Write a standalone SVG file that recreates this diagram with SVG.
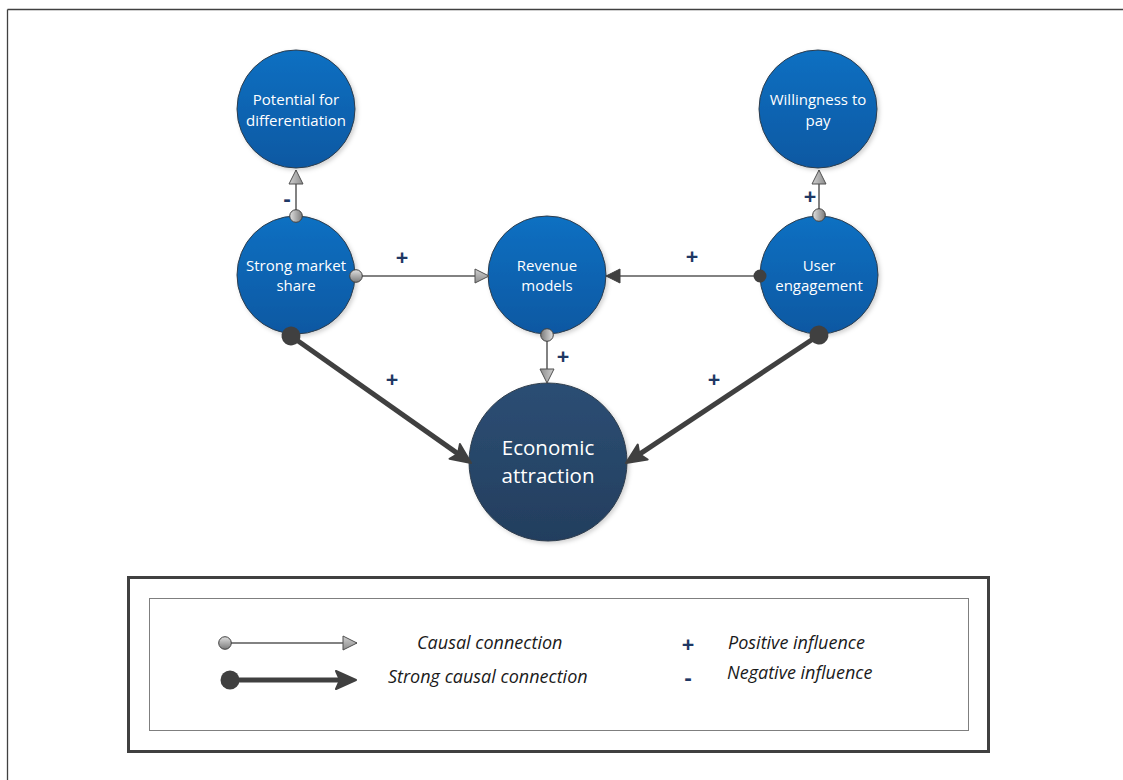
<svg xmlns="http://www.w3.org/2000/svg" width="1123" height="780" viewBox="0 0 1123 780">
  <defs>
    <style>
      .node-blue { fill: url(#gBlue); stroke: #2f3d4c; stroke-width: 1; filter: url(#shadow); }
      .node-dark { fill: url(#gDark); stroke: #2f3d4c; stroke-width: 1; filter: url(#shadow); }
      .lbl { font-family: "Open Sans", "Noto Sans", sans-serif; font-size: 15px; fill: #ffffff; text-anchor: middle; }
      .lbl-big { font-family: "Open Sans", "Noto Sans", sans-serif; font-size: 20.5px; fill: #ffffff; text-anchor: middle; }
      .sign { font-family: "Open Sans", "Noto Sans", sans-serif; font-size: 22px; font-weight: bold; fill: #1f3864; text-anchor: middle; }
      .thin { fill: none; stroke: #595959; stroke-width: 1.5; marker-start: url(#ballGray); marker-end: url(#arrowGray); }
      .thin-dark { fill: none; stroke: #595959; stroke-width: 1.5; marker-start: url(#ballDarkSmall); marker-end: url(#arrowDark); }
      .thick { fill: none; stroke: #404040; stroke-width: 5; marker-start: url(#ballDark); marker-end: url(#arrowThick); }
      .legend-text { font-family: "Open Sans", "Noto Sans", sans-serif; font-size: 18px; font-style: italic; fill: #1a1a1a; }
    </style>
    <linearGradient id="gBlue" x1="0" y1="0" x2="0" y2="1">
      <stop offset="0" stop-color="#0b70c2"/>
      <stop offset="1" stop-color="#0a58a2"/>
    </linearGradient>
    <linearGradient id="gDark" x1="0" y1="0" x2="0" y2="1">
      <stop offset="0" stop-color="#2c4e74"/>
      <stop offset="1" stop-color="#233e5e"/>
    </linearGradient>
    <linearGradient id="gBall" x1="0" y1="0" x2="0" y2="1">
      <stop offset="0" stop-color="#e0e0e0"/>
      <stop offset="1" stop-color="#7a7a7a"/>
    </linearGradient>
    <linearGradient id="gHead" x1="0" y1="0" x2="0" y2="1">
      <stop offset="0" stop-color="#cfcfcf"/>
      <stop offset="1" stop-color="#8c8c8c"/>
    </linearGradient>
    <filter id="shadow" x="-20%" y="-20%" width="150%" height="150%">
      <feDropShadow dx="2" dy="2" stdDeviation="2" flood-color="#000000" flood-opacity="0.18"/>
    </filter>
    <!-- connector ends -->
    <marker id="ballGray" markerUnits="userSpaceOnUse" markerWidth="16" markerHeight="16" refX="8" refY="8" orient="auto">
      <circle cx="8" cy="8" r="6.3" fill="url(#gBall)" stroke="#404040" stroke-width="1"/>
    </marker>
    <marker id="ballDarkSmall" markerUnits="userSpaceOnUse" markerWidth="16" markerHeight="16" refX="8" refY="8" orient="auto">
      <circle cx="8" cy="8" r="6.5" fill="#404040"/>
    </marker>
    <marker id="ballDark" markerUnits="userSpaceOnUse" markerWidth="22" markerHeight="22" refX="11" refY="11" orient="auto">
      <circle cx="11" cy="11" r="9.5" fill="#404040"/>
    </marker>
    <marker id="arrowGray" markerUnits="userSpaceOnUse" markerWidth="18" markerHeight="18" refX="15" refY="8" orient="auto">
      <path d="M1,1 L15,8 L1,15 Z" fill="url(#gHead)" stroke="#505050" stroke-width="1" stroke-linejoin="round"/>
    </marker>
    <marker id="arrowDark" markerUnits="userSpaceOnUse" markerWidth="18" markerHeight="18" refX="15" refY="8" orient="auto">
      <path d="M1,1 L15,8 L1,15 Z" fill="#404040" stroke="#404040" stroke-width="1" stroke-linejoin="round"/>
    </marker>
    <marker id="arrowThick" markerUnits="userSpaceOnUse" markerWidth="26" markerHeight="24" refX="8" refY="12" orient="auto">
      <path d="M2,3 L22,12 L2,21 L6,12 Z" fill="#404040" stroke="#404040" stroke-width="2" stroke-linejoin="round"/>
    </marker>
  </defs>

  <rect width="1123" height="780" fill="#ffffff"/>

  <!-- page frame -->
  <g id="frame">
    <line x1="7.5" y1="9.5" x2="1123" y2="9.5" stroke="#404040" stroke-width="1.3"/>
    <line x1="7.5" y1="9.5" x2="7.5" y2="780" stroke="#404040" stroke-width="1.3"/>
  </g>

  <!-- nodes -->
  <g id="node-differentiation">
    <circle class="node-blue" cx="296" cy="109" r="59"/>
    <text class="lbl" x="296" y="105">Potential for</text>
    <text class="lbl" x="296" y="126">differentiation</text>
  </g>
  <g id="node-willingness">
    <circle class="node-blue" cx="818" cy="109" r="59"/>
    <text class="lbl" x="818" y="105">Willingness to</text>
    <text class="lbl" x="818" y="126">pay</text>
  </g>
  <g id="node-market-share">
    <circle class="node-blue" cx="296" cy="275" r="59"/>
    <text class="lbl" x="296" y="271">Strong market</text>
    <text class="lbl" x="296" y="291">share</text>
  </g>
  <g id="node-revenue">
    <circle class="node-blue" cx="547" cy="275" r="59"/>
    <text class="lbl" x="547" y="271">Revenue</text>
    <text class="lbl" x="547" y="291">models</text>
  </g>
  <g id="node-engagement">
    <circle class="node-blue" cx="819" cy="275" r="59"/>
    <text class="lbl" x="819" y="271">User</text>
    <text class="lbl" x="819" y="291">engagement</text>
  </g>
  <g id="node-economic">
    <circle class="node-dark" cx="548" cy="462" r="79"/>
    <text class="lbl-big" x="548" y="455">Economic</text>
    <text class="lbl-big" x="548" y="483">attraction</text>
  </g>

  <!-- connectors, drawn over the node rims -->
  <g id="connectors">
    <path class="thin" d="M296,216 L296,170"/>
    <path class="thin" d="M356,276 L489,276"/>
    <path class="thin-dark" d="M760,276 L606,276"/>
    <path class="thin" d="M819,215 L819,170"/>
    <path class="thin" d="M547,335 L547,383"/>
    <path class="thick" d="M291,336 L459.6,454.9"/>
    <path class="thick" d="M819,335 L637.7,455.3"/>
  </g>

  <!-- influence signs -->
  <g id="signs">
    <text class="sign" x="287" y="206">-</text>
    <text class="sign" x="402" y="265">+</text>
    <text class="sign" x="692" y="264">+</text>
    <text class="sign" x="810" y="204">+</text>
    <text class="sign" x="563" y="364">+</text>
    <text class="sign" x="392" y="387">+</text>
    <text class="sign" x="714" y="387">+</text>
  </g>

  <!-- legend -->
  <g id="legend">
    <rect x="128.5" y="577.5" width="860" height="174" fill="none" stroke="#404040" stroke-width="3"/>
    <rect x="149.5" y="598.5" width="819" height="132" fill="none" stroke="#7f7f7f" stroke-width="1"/>
    <path class="thin" d="M225,643 L357,643"/>
    <path class="thick" d="M230,680 L342,680"/>
    <text class="legend-text" x="417" y="649">Causal connection</text>
    <text class="legend-text" x="388" y="683">Strong causal connection</text>
    <text class="sign" x="688" y="652">+</text>
    <text class="sign" x="688" y="685">-</text>
    <text class="legend-text" x="728" y="649">Positive influence</text>
    <text class="legend-text" x="727" y="679">Negative influence</text>
  </g>
</svg>
